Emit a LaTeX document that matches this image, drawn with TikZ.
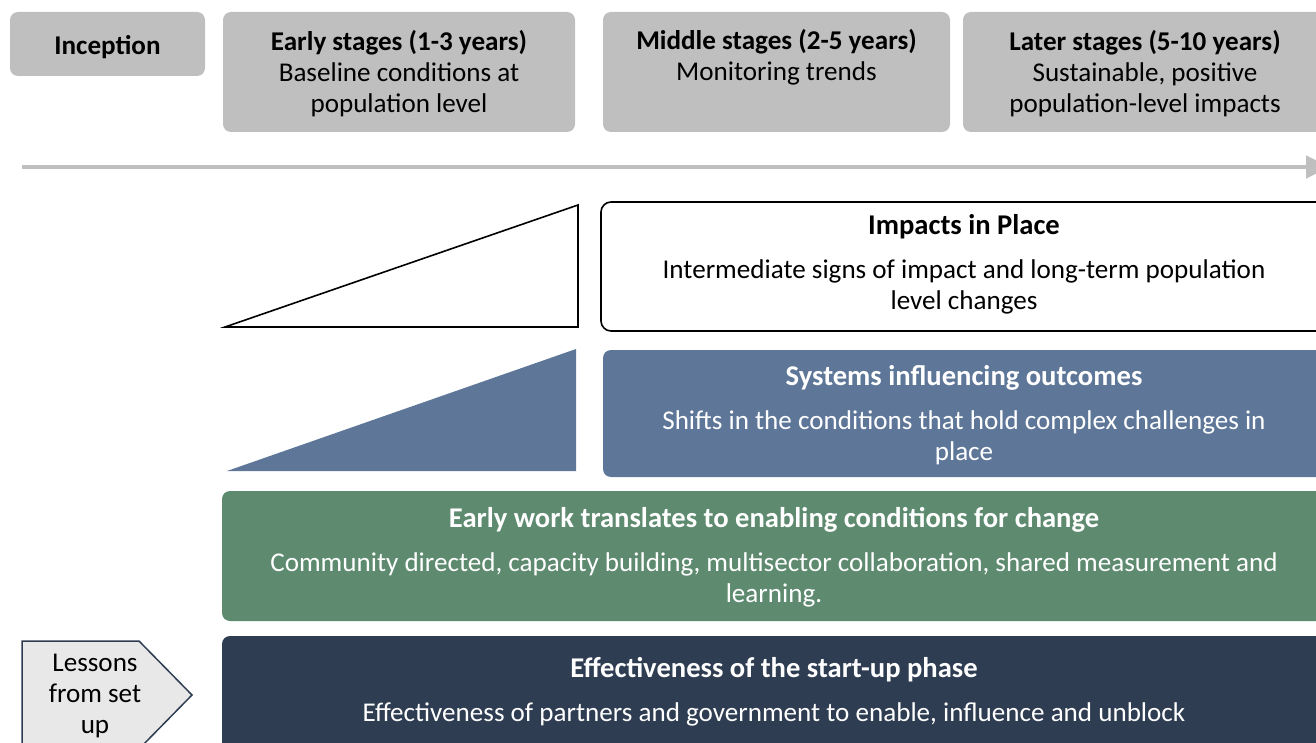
\documentclass[tikz,border=0pt]{standalone}
\usepackage{fontspec}
\setmainfont{Carlito}
\usetikzlibrary{arrows.meta}

\definecolor{stagegray}{HTML}{BFBFBF}
\definecolor{systemblue}{HTML}{5E7799}
\definecolor{enablegreen}{HTML}{5E8B70}
\definecolor{startnavy}{HTML}{2E3D52}
\definecolor{lessonsfill}{HTML}{E8E8E8}

% larger bold heading used inside the outcome layers
\newcommand{\layerhead}[1]{{\fontsize{28.6}{31}\selectfont\bfseries #1}}

\begin{document}
\begin{tikzpicture}[x=1pt, y=-1pt,
  card/.style={rounded corners=8pt, inner sep=0pt, draw=none},
  label/.style={align=center, inner sep=0pt,
    font=\fontsize{27.1}{31}\selectfont,
    execute at begin node=\strut, execute at end node=\strut},
  timeline/.style={draw=stagegray, line width=4.5pt,
    -{Triangle[length=24pt, width=22pt]}}
]
\useasboundingbox (0,0) rectangle (1316,743);
\clip (0,0) rectangle (1316,743);

% stage headers
\node[card, fill=stagegray, minimum width=195pt, minimum height=64pt] (inception) at (107.5,44) {};
\node[label] (inceptiontext) at (107.5,48.5) {\bfseries Inception};

\node[card, fill=stagegray, minimum width=352pt, minimum height=120pt] (early) at (399,72) {};
\node[label] (earlytext) at (399,76) {\textbf{Early stages (1-3 years)}\\Baseline conditions at\\population level};

\node[card, fill=stagegray, minimum width=347pt, minimum height=120pt] (middle) at (776.5,72) {};
\node[label] (middletext) at (776.5,60) {\textbf{Middle stages (2-5 years)}\\Monitoring trends};

\node[card, fill=stagegray, minimum width=364pt, minimum height=120pt] (later) at (1145,72) {};
\node[label] (latertext) at (1145,76) {\textbf{Later stages (5-10 years)}\\Sustainable, positive\\population-level impacts};

% timeline arrow
\coordinate (tlstart) at (22,167);
\coordinate (tlend) at (1330,167);
\draw[timeline] (tlstart) -- (tlend);

% growth wedges
\draw[line width=1.6pt, fill=white, line join=miter] (225,327) -- (578,205) -- (578,327) -- cycle;
\fill[systemblue] (227,471) -- (576,349) -- (576,471) -- cycle;

% outcome layers
\node[card, rounded corners=10pt, draw=black, line width=1.6pt, fill=white,
  minimum width=726pt, minimum height=129pt] (impacts) at (964,266.5) {};
\node[label] (impactstext) at (964,267) {\layerhead{Impacts in Place}\\[13pt]Intermediate signs of impact and long-term population\\level changes};

\node[card, fill=systemblue, minimum width=724pt, minimum height=127pt] (systems) at (965,413.5) {};
\node[label, text=white] (systemstext) at (964,418) {\layerhead{Systems influencing outcomes}\\[13pt]Shifts in the conditions that hold complex challenges in\\place};

\node[card, fill=enablegreen, minimum width=1105pt, minimum height=130pt] (enabling) at (774.5,556) {};
\node[label, text=white] (enablingtext) at (774,560) {\layerhead{Early work translates to enabling conditions for change}\\[13pt]Community directed, capacity building, multisector collaboration, shared measurement and\\learning.};

\node[card, fill=startnavy, minimum width=1105pt, minimum height=134pt] (startup) at (774.5,703) {};
\node[label, text=white] (startuptext) at (774,694) {\layerhead{Effectiveness of the start-up phase}\\[13pt]Effectiveness of partners and government to enable, influence and unblock};

% lessons tag
\draw[fill=lessonsfill, draw=startnavy, line width=1.5pt, line join=miter]
  (22,641) -- (139,641) -- (192,695) -- (139,749) -- (22,749) -- cycle;
\node[label] (lessons) at (95,698) {Lessons\\from set\\up};
\end{tikzpicture}
\end{document}
